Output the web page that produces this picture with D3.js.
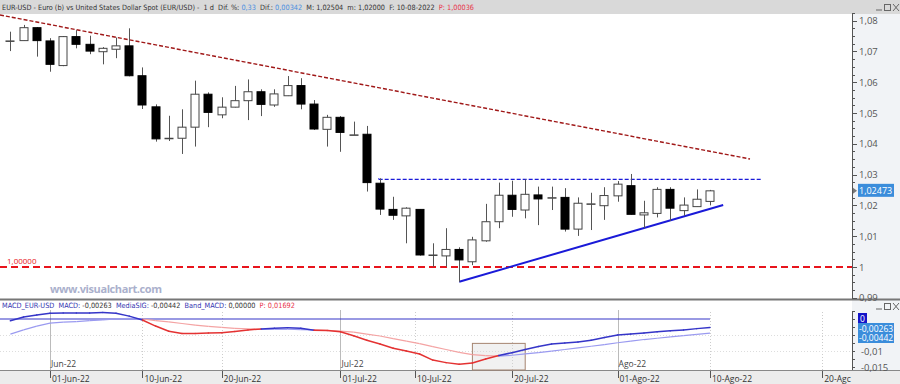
<!DOCTYPE html>
<html lang="en">
<head>
<meta charset="utf-8">
<title>EUR-USD</title>
<script src="https://cdn.jsdelivr.net/npm/d3@7"></script>
<style>
body { margin: 0; background: #fff; }
svg text { font-family: "Open Sans", "DejaVu Sans", sans-serif; }
svg text.narrow { font-family: "Liberation Sans Narrow", "DejaVu Sans Condensed", "Liberation Sans", sans-serif; }
</style>
</head>
<body>
<script>
// daily candles, index 0 = 27-May-22 ... 53 = 10-Ago-22
var opens  = [1.0734,1.0735,1.0777,1.0734,1.0654,1.0748,1.0723,1.0699,1.0707,1.0718,1.0621,1.0520,1.0418,1.0418,1.0454,1.0561,1.0494,1.0519,1.0540,1.0569,1.0526,1.0556,1.0589,1.0529,1.0447,1.0486,1.0429,1.0431,1.0272,1.0187,1.0166,1.0187,1.0039,1.0036,1.0057,1.0017,1.0085,1.0147,1.0233,1.0185,1.0234,1.0225,1.0226,1.0123,1.0205,1.0199,1.0231,1.0264,1.0169,1.0174,1.0252,1.0183,1.0196,1.0213];
var highs  = [1.0764,1.0786,1.0779,1.0743,1.0750,1.0769,1.0751,1.0714,1.0745,1.0775,1.0648,1.0528,1.0491,1.0512,1.0605,1.0567,1.0551,1.0588,1.0609,1.0577,1.0577,1.0620,1.0613,1.0542,1.0494,1.0490,1.0472,1.0458,1.0288,1.0228,1.0194,1.0188,1.0077,1.0126,1.0064,1.0098,1.0205,1.0274,1.0280,1.0285,1.0261,1.0261,1.0256,1.0226,1.0241,1.0259,1.0279,1.0302,1.0215,1.0259,1.0259,1.0226,1.0252,1.02504];
var lows   = [1.0701,1.0735,1.0683,1.0634,1.0652,1.0710,1.0691,1.0658,1.0678,1.0619,1.0513,1.0407,1.0409,1.0367,1.0391,1.0454,1.0483,1.0518,1.0477,1.0490,1.0520,1.0555,1.0512,1.0445,1.0391,1.0374,1.0428,1.0245,1.0169,1.0153,1.0077,1.0037,1.0001,1.0001,0.9952,1.0006,1.0082,1.0126,1.0163,1.0158,1.0136,1.0185,1.0115,1.0101,1.0120,1.0153,1.0212,1.0170,1.0126,1.0161,1.0150,1.0166,1.0196,1.0200];
var closes = [1.0734,1.0777,1.0735,1.0658,1.0748,1.0723,1.0701,1.0710,1.0718,1.0621,1.0526,1.0416,1.0418,1.0454,1.0561,1.0502,1.0519,1.0540,1.0569,1.0528,1.0562,1.0589,1.0529,1.0448,1.0486,1.0437,1.0429,1.0274,1.0188,1.0168,1.0191,1.0039,1.0039,1.0057,1.0023,1.0088,1.0147,1.0233,1.0187,1.0236,1.0221,1.0225,1.0123,1.0207,1.0205,1.0232,1.0269,1.0171,1.0176,1.0252,1.0191,1.0201,1.0220,1.02473];

// MACD and signal line, one value per candle
var macd   = [-0.00053,0.00062,0.00125,0.00178,0.00188,0.0019,0.0019,0.002,0.0018,0.0009,-0.0003,-0.0022,-0.0038,-0.0045,-0.0045,-0.0044,-0.0043,-0.0039,-0.0034,-0.0031,-0.0029,-0.0027,-0.0029,-0.0035,-0.0036,-0.0040,-0.0052,-0.0066,-0.0078,-0.0091,-0.0100,-0.0109,-0.0128,-0.0136,-0.0141,-0.0137,-0.0125,-0.0114,-0.0105,-0.0095,-0.0086,-0.0078,-0.0075,-0.0072,-0.0066,-0.0058,-0.0050,-0.0047,-0.0044,-0.0040,-0.0037,-0.0034,-0.0030,-0.00263];
var signal = [-0.0047,-0.0034,-0.0022,-0.0013,-0.0010,-0.0008,-0.0005,-0.0003,0.0000,0.0002,0.0000,-0.0005,-0.0009,-0.0014,-0.0019,-0.0023,-0.0026,-0.0029,-0.0031,-0.0032,-0.0032,-0.0032,-0.0033,-0.0034,-0.0035,-0.0038,-0.0041,-0.0047,-0.0053,-0.0061,-0.0069,-0.0077,-0.0086,-0.0095,-0.0104,-0.0111,-0.0114,-0.0116,-0.0113,-0.0109,-0.0105,-0.0100,-0.0095,-0.0090,-0.0085,-0.0080,-0.0074,-0.0069,-0.0064,-0.0060,-0.0056,-0.0052,-0.0048,-0.00442];

// date axis (position in candles, fractional = weekend date)
var dateLabels = ["01-Jun-22","10-Jun-22","20-Jun-22","01-Jul-22","10-Jul-22","20-Jul-22","01-Ago-22","10-Ago-22","20-Agc"];
var datePos    = [3, 10, 16, 25, 30.65, 38, 46, 53, 61.5];
var monthLabels = ["Jun-22","Jul-22","Ago-22"];
var monthPos    = [3, 25, 46];

var priceTicks = [0.99,1.00,1.01,1.02,1.03,1.04,1.05,1.06,1.07,1.08];
var macdTicks  = [-0.01,-0.015];

// drawn lines: downtrend, resistance, support (candle index, price)
var downTrend  = [[-0.79,1.08182],[56.03,1.03506]];
var resistance = [[27.9,1.02847],[56.9,1.02847]];
var support    = [[34,0.99523],[54,1.02013]];
var parity = 1.0;

var W = 900, H = 384, axisX = 852;

var svg = d3.select("body").append("svg")
	.attr("width", W).attr("height", H);

//Scales
var x = d3.scaleLinear().domain([0, 53]).range([10.4, 710]);
var y = d3.scaleLinear().domain([0.99, 1.08]).range([297.8, 20.6]);
var ym = d3.scaleLinear().domain([0, -0.0159]).range([319, 370]);

var fmt = function(d){ return String(+d.toFixed(5)).replace(".", ","); };

// shrink a text's font so it spans the given width
function fit(t, width){
	var len = t.node().getComputedTextLength();
	var fs = parseFloat(t.style("font-size"));
	t.style("font-size", (fs*width/len).toFixed(2)+"px");
}

// backgrounds
svg.append("rect").attr("x",0).attr("y",0).attr("width",W).attr("height",H).attr("fill","#fff");
svg.append("rect").attr("x",axisX).attr("y",14).attr("width",W-axisX).attr("height",356).attr("fill","#f1f3f6");
svg.append("rect").attr("x",0).attr("y",0).attr("width",W).attr("height",14).attr("fill","#d9d9d9");
svg.append("rect").attr("x",0).attr("y",370).attr("width",W).attr("height",14).attr("fill","#ececec");
svg.append("line").attr("x1",0).attr("x2",W).attr("y1",299.5).attr("y2",299.5).attr("stroke","#777").attr("stroke-width",2);
svg.append("line").attr("x1",0).attr("x2",W).attr("y1",370.5).attr("y2",370.5).attr("stroke","#888");

// window buttons
function buttons(yy){
	var g = svg.append("g").attr("stroke","#666").attr("fill","none");
	g.append("line").attr("x1",876).attr("x2",882).attr("y1",yy+7).attr("y2",yy+7);
	g.append("rect").attr("x",884.5).attr("y",yy+1.5).attr("width",6).attr("height",6);
	g.append("path").attr("d","M893,"+(yy+1)+"L899,"+(yy+8)+"M899,"+(yy+1)+"L893,"+(yy+8));
}
buttons(3);
buttons(302);

// title bar
var title = svg.append("text").attr("class","narrow").attr("x",2).attr("y",10).style("font-size","9px").attr("fill","#333")
	.attr("xml:space","preserve");
title.append("tspan").text("EUR-USD - Euro (b) vs United States Dollar Spot (EUR/USD) -  1 d  Dif. %: ");
title.append("tspan").attr("fill","#4a8fe0").text("0,33");
title.append("tspan").text("  Dif.: ");
title.append("tspan").attr("fill","#4a8fe0").text("0,00342");
title.append("tspan").text("  M: 1,02504  m: 1,02000  F: 10-08-2022  ");
title.append("tspan").attr("fill","#e8334a").text("P: 1,00036");
fit(title, 472);

// price axis
var ax = svg.append("g").attr("transform","translate("+axisX+",0)");
ax.append("line").attr("x1",0.5).attr("x2",0.5).attr("y1",14).attr("y2",299).attr("stroke","#555");
var minor = d3.range(0.99, 1.0826, 0.0025);
ax.selectAll(".mn").data(minor).enter().append("line")
	.attr("x1",0).attr("x2",3).attr("y1",function(d){return Math.round(y(d))+0.5;}).attr("y2",function(d){return Math.round(y(d))+0.5;})
	.attr("stroke","#555");
ax.selectAll(".mj").data(priceTicks).enter().append("line")
	.attr("x1",0).attr("x2",5).attr("y1",function(d){return Math.round(y(d))+0.5;}).attr("y2",function(d){return Math.round(y(d))+0.5;})
	.attr("stroke","#555");
ax.selectAll(".lb").data(priceTicks).enter().append("text")
	.attr("x",7).attr("y",function(d){return y(d)+3.5;})
	.style("font-size","9.5px").attr("fill","#555")
	.text(function(d){ return fmt(+d.toFixed(2)); });

// horizontal parity line and label
svg.append("line").attr("x1",0).attr("x2",axisX).attr("y1",y(parity)).attr("y2",y(parity))
	.attr("stroke","#e8141c").attr("stroke-width",2).attr("stroke-dasharray","7,4");
svg.append("text").attr("x",7).attr("y",y(parity)-3).style("font-size","8px").attr("fill","#e8141c").text("1,00000");

// watermark
svg.append("text").attr("x",50).attr("y",293).style("font-size","11px").style("font-weight","bold")
	.attr("fill","#aab0cc").attr("textLength",112).text("www.visualchart.com");

// trend lines
var ln = d3.line().x(function(d){return x(d[0]);}).y(function(d){return y(d[1]);});
svg.append("path").attr("d",ln(downTrend)).attr("fill","none").attr("stroke","#a01818")
	.attr("stroke-width",1.4).attr("stroke-dasharray","4,2");
svg.append("path").attr("d",ln(resistance)).attr("fill","none").attr("stroke","#1a1ad8")
	.attr("stroke-width",1.3).attr("stroke-dasharray","4,2");
svg.append("line").attr("x1",x(resistance[0][0])).attr("x2",x(resistance[0][0]))
	.attr("y1",y(resistance[0][1])).attr("y2",y(highs[28])).attr("stroke","#1a1ad8");
svg.append("path").attr("d",ln(support)).attr("fill","none").attr("stroke","#1a1ad8").attr("stroke-width",2);

// candles
var data = opens.map(function(o,i){ return {i:i, o:o, h:highs[i], l:lows[i], c:closes[i]}; });
var cw = 9;
var cg = svg.append("g");
cg.selectAll(".wick").data(data).enter().append("line")
	.attr("x1",function(d){return Math.round(x(d.i))+0.5;}).attr("x2",function(d){return Math.round(x(d.i))+0.5;})
	.attr("y1",function(d){return y(d.h);}).attr("y2",function(d){return y(d.l);})
	.attr("stroke","#555");
cg.selectAll(".body").data(data).enter().append("rect")
	.attr("x",function(d){return Math.round(x(d.i))-cw/2+0.5;})
	.attr("y",function(d){return y(Math.max(d.o,d.c));})
	.attr("width",cw-1)
	.attr("height",function(d){return Math.max(0.5, Math.abs(y(d.o)-y(d.c)));})
	.attr("fill",function(d){return d.c>=d.o ? "#fff" : "#000";})
	.attr("stroke",function(d){return d.c>=d.o ? "#444" : "#000";});

// last price box
var last = closes[closes.length-1];
svg.append("path").attr("d","M853,"+(y(last)-3)+"L857,"+y(last)+"L853,"+(y(last)+3)+"Z").attr("fill","#777");
svg.append("rect").attr("x",858).attr("y",y(last)-7).attr("width",36).attr("height",13).attr("fill","#3b8ddb");
svg.append("text").attr("x",859).attr("y",y(last)+3).style("font-size","9px").attr("fill","#fff").text(fmt(last));

// ---- MACD panel ----
// vertical grid
svg.selectAll(".vg").data(datePos).enter().append("line")
	.attr("x1",function(d){return Math.round(x(d))+0.5;}).attr("x2",function(d){return Math.round(x(d))+0.5;})
	.attr("y1",312).attr("y2",370).attr("stroke","#ccc").attr("stroke-dasharray","1,2");
svg.selectAll(".hg").data([-0.005,-0.01]).enter().append("line")
	.attr("x1",0).attr("x2",axisX).attr("y1",function(d){return Math.round(ym(d))+0.5;}).attr("y2",function(d){return Math.round(ym(d))+0.5;})
	.attr("stroke","#ddd").attr("stroke-dasharray","1,2");
svg.selectAll(".mg").data(monthPos).enter().append("line")
	.attr("x1",function(d){return Math.round(x(d))+0.5;}).attr("x2",function(d){return Math.round(x(d))+0.5;})
	.attr("y1",310).attr("y2",370).attr("stroke","#bbb");
svg.selectAll(".ml").data(monthLabels).enter().append("text")
	.attr("x",function(d,i){return x(monthPos[i])+1;}).attr("y",367)
	.style("font-size","8.5px").attr("fill","#444").text(function(d){return d;});

// selection box
svg.append("rect").attr("x",x(35)).attr("y",ym(-0.0076)).attr("width",x(39)-x(35)).attr("height",370-ym(-0.0076))
	.attr("fill","rgba(215,215,215,0.35)").attr("stroke","#a58470");

// zero band
svg.append("line").attr("x1",0).attr("x2",x(53)).attr("y1",ym(0)).attr("y2",ym(0)).attr("stroke","#3434c8").attr("stroke-width",1.2);

// signal then macd, segment colours by which is on top
for (var i=0;i<macd.length-1;i++){
	var up = (macd[i]+macd[i+1]) >= (signal[i]+signal[i+1]);
	svg.append("line").attr("x1",x(i)).attr("x2",x(i+1)).attr("y1",ym(signal[i])).attr("y2",ym(signal[i+1]))
		.attr("stroke", up ? "#9a9af0" : "#f4a3a3").attr("stroke-width",1.2);
}
for (var i=0;i<macd.length-1;i++){
	var up = (macd[i]+macd[i+1]) >= (signal[i]+signal[i+1]);
	svg.append("line").attr("x1",x(i)).attr("x2",x(i+1)).attr("y1",ym(macd[i])).attr("y2",ym(macd[i+1]))
		.attr("stroke", up ? "#3535c8" : "#e43232").attr("stroke-width",1.5).attr("stroke-linecap","round");
}

// MACD title
var mt = svg.append("text").attr("class","narrow").attr("x",2).attr("y",308).style("font-size","8.5px").attr("fill","#3333b0")
	.attr("xml:space","preserve");
mt.append("tspan").text("MACD_EUR-USD  MACD: ");
mt.append("tspan").attr("fill","#333").text("-0,00263");
mt.append("tspan").text("  MediaSIG: ");
mt.append("tspan").attr("fill","#333").text("-0,00442");
mt.append("tspan").text("  Band_MACD: ");
mt.append("tspan").attr("fill","#333").text("0,00000");
mt.append("tspan").attr("fill","#e8334a").text("  P: 0,01692");
fit(mt, 293);

// MACD axis
var mx = svg.append("g").attr("transform","translate("+axisX+",0)");
mx.append("line").attr("x1",0.5).attr("x2",0.5).attr("y1",312).attr("y2",370).attr("stroke","#555");
mx.selectAll(".t").data(d3.range(0.0025,-0.0159,-0.0025)).enter().append("line")
	.attr("x1",0).attr("x2",3).attr("y1",function(d){return Math.round(ym(d))+0.5;}).attr("y2",function(d){return Math.round(ym(d))+0.5;})
	.attr("stroke","#555");
mx.selectAll(".l").data(macdTicks).enter().append("text")
	.attr("x",9).attr("y",function(d){return ym(d)+3.5;}).style("font-size","9.5px").attr("fill","#555")
	.text(function(d){return fmt(d);});
// value boxes stacked under the zero box
var lastSig = signal[signal.length-1], lastMacd = macd[macd.length-1];
mx.append("rect").attr("x",6).attr("y",ym(0)-6).attr("width",9).attr("height",10).attr("fill","#1414c8");
mx.append("text").attr("x",8).attr("y",ym(0)+2.5).style("font-size","8.5px").attr("fill","#fff").text("0");
mx.append("rect").attr("x",6).attr("y",ym(0)+4).attr("width",36).attr("height",20).attr("fill","#3b8ddb");
mx.append("text").attr("x",7).attr("y",ym(0)+12.5).style("font-size","8.5px").attr("fill","#fff").text(fmt(lastMacd));
mx.append("text").attr("x",7).attr("y",ym(0)+22).style("font-size","8.5px").attr("fill","#fff").text(fmt(lastSig));

// date axis
svg.selectAll(".dt").data(datePos).enter().append("line")
	.attr("x1",function(d){return Math.round(x(d))+0.5;}).attr("x2",function(d){return Math.round(x(d))+0.5;})
	.attr("y1",371).attr("y2",378).attr("stroke","#555");
svg.selectAll(".dl").data(dateLabels).enter().append("text")
	.attr("x",function(d,i){return x(datePos[i])+2;}).attr("y",382)
	.style("font-size","8.5px").attr("fill","#333").text(function(d){return d;});
</script>
</body>
</html>
